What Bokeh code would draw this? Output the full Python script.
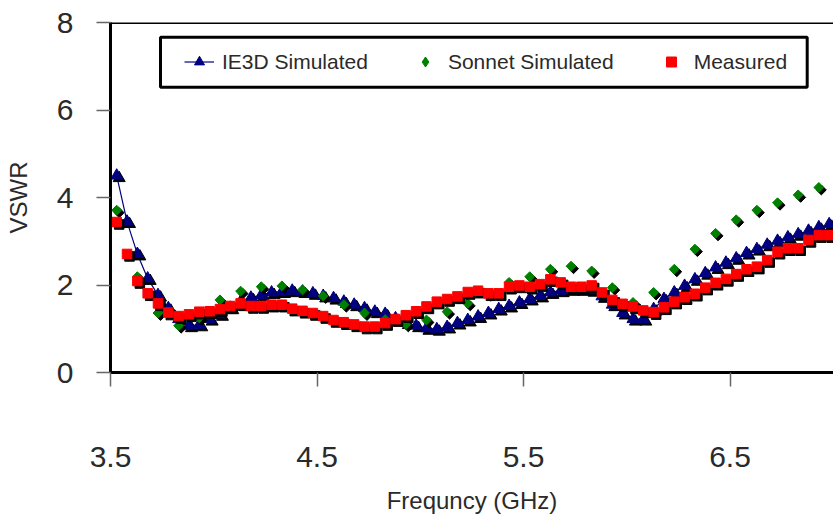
from bokeh.plotting import figure
from bokeh.models import FixedTicker, Legend, LegendItem, Span, BoxAnnotation
from bokeh.embed import file_html
from bokeh.resources import INLINE

# ---------------- data ----------------
freq = [3.53, 3.58, 3.63, 3.68, 3.73, 3.78, 3.83, 3.88, 3.93, 3.98,
        4.03, 4.08, 4.13, 4.18, 4.23, 4.28, 4.33, 4.38, 4.43, 4.48,
        4.53, 4.58, 4.63, 4.68, 4.73, 4.78, 4.83, 4.88, 4.93, 4.98,
        5.03, 5.08, 5.13, 5.18, 5.23, 5.28, 5.33, 5.38, 5.43, 5.48,
        5.53, 5.58, 5.63, 5.68, 5.73, 5.78, 5.83, 5.88, 5.93, 5.98,
        6.03, 6.08, 6.13, 6.18, 6.23, 6.28, 6.33, 6.38, 6.43, 6.48,
        6.53, 6.58, 6.63, 6.68, 6.73, 6.78, 6.83, 6.88, 6.93, 6.98]

ie3d = [4.50, 3.45, 2.71, 2.15, 1.77, 1.47, 1.22, 1.07, 1.09, 1.22,
        1.33, 1.48, 1.62, 1.71, 1.77, 1.83, 1.85, 1.87, 1.85, 1.81,
        1.75, 1.70, 1.62, 1.55, 1.47, 1.39, 1.34, 1.24, 1.14, 1.07,
        1.01, 0.99, 1.04, 1.13, 1.20, 1.28, 1.36, 1.45, 1.52, 1.60,
        1.68, 1.75, 1.83, 1.87, 1.90, 1.90, 1.88, 1.74, 1.55, 1.36,
        1.22, 1.22, 1.45, 1.68, 1.83, 1.98, 2.13, 2.27, 2.40, 2.51,
        2.61, 2.73, 2.82, 2.92, 3.01, 3.09, 3.16, 3.24, 3.32, 3.39]

measured = [3.44, 2.71, 2.09, 1.81, 1.58, 1.37, 1.29, 1.33, 1.39, 1.40,
            1.45, 1.52, 1.58, 1.52, 1.52, 1.55, 1.55, 1.46, 1.41, 1.36,
            1.29, 1.20, 1.15, 1.10, 1.05, 1.05, 1.13, 1.22, 1.31, 1.40,
            1.51, 1.62, 1.68, 1.74, 1.84, 1.87, 1.81, 1.81, 1.96, 1.99,
            1.96, 2.02, 2.13, 2.06, 1.96, 1.96, 1.99, 1.83, 1.66, 1.57,
            1.51, 1.42, 1.38, 1.49, 1.62, 1.72, 1.80, 1.94, 2.05, 2.14,
            2.25, 2.36, 2.42, 2.57, 2.76, 2.84, 2.84, 3.03, 3.14, 3.14]

sonnet_freq = [3.53, 3.63, 3.73, 3.83, 3.93, 4.03, 4.13, 4.23, 4.33, 4.43,
               4.53, 4.63, 4.73, 4.83, 4.93, 5.03, 5.13, 5.23, 5.33, 5.43,
               5.53, 5.63, 5.73, 5.83, 5.93, 6.03, 6.13, 6.23, 6.33, 6.43,
               6.53, 6.63, 6.73, 6.83, 6.93]
sonnet = [3.71, 2.19, 1.36, 1.07, 1.25, 1.66, 1.86, 1.96, 1.98, 1.89,
          1.75, 1.55, 1.36, 1.21, 1.10, 1.20, 1.39, 1.58, 1.80, 2.06,
          2.19, 2.36, 2.43, 2.32, 1.94, 1.60, 1.83, 2.36, 2.82, 3.18,
          3.49, 3.71, 3.88, 4.06, 4.23]

x_ticks = [3.5, 4.5, 5.5, 6.5]
y_ticks = [0, 2, 4, 6, 8]
series_names = ["IE3D Simulated", "Sonnet Simulated", "Measured"]

# ---------------- layout ----------------
FONT = "Liberation Sans"
X0, X1 = 3.5, 7.001
Y0, Y1 = 0, 8
FW, FH = 723, 350

p = figure(frame_width=FW, frame_height=FH,
           x_range=(X0, X1), y_range=(Y0, Y1),
           output_backend="svg", toolbar_location=None,
           min_border_left=110, min_border_right=0,
           min_border_top=22, min_border_bottom=148,
           background_fill_color="white", border_fill_color="white")
p.outline_line_color = None
p.xgrid.visible = False
p.ygrid.visible = False

# shadow offset (about 2.5 px right / down)
sdx = 2.5 * (X1 - X0) / FW
sdy = 2.5 * (Y1 - Y0) / FH

# IE3D
l_ie = p.line(freq, ie3d, line_color="#000080", line_width=1.2)
p.scatter([f + sdx for f in freq], [v - sdy for v in ie3d], marker="triangle",
          size=12, fill_color="black", line_color="black")
s_ie = p.scatter(freq, ie3d, marker="triangle", size=12,
                 fill_color="#000080", line_color="#000080")

# Sonnet (rotated squares)
p.scatter([f + sdx for f in sonnet_freq], [v - sdy for v in sonnet], marker="square",
          angle=0.785398, size=7, fill_color="black", line_color="black")
p.scatter(sonnet_freq, sonnet, marker="square", angle=0.785398, size=7,
          fill_color="#008000", line_color="#008000")
# legend-only glyph for Sonnet (a single NaN point, never drawn in the plot)
s_so = p.scatter(x=[float("nan")], y=[float("nan")], marker="diamond", size=12,
                 fill_color="#008000", line_color="#008000")

# Measured
p.scatter([f + sdx for f in freq], [v - sdy for v in measured], marker="square",
          size=9.5, fill_color="black", line_color="black")
s_me = p.scatter(freq, measured, marker="square", size=9.5,
                 fill_color="#ff0000", line_color="#ff0000")

# top border
p.add_layout(Span(location=Y1, dimension="width", line_color="black", line_width=3))

# axes
for ax in (p.xaxis[0], p.yaxis[0]):
    ax.axis_line_color = "black"
    ax.axis_line_width = 3
    ax.major_tick_line_color = "#666666"
    ax.major_tick_line_width = 1.5
    ax.major_tick_out = 14
    ax.major_tick_in = 0
    ax.minor_tick_line_color = None
    ax.major_label_text_font = FONT
    ax.major_label_text_font_size = "30px"
    ax.major_label_text_color = "#2a2a2a"
    ax.axis_label_text_font = FONT
    ax.axis_label_text_font_size = "24px"
    ax.axis_label_text_font_style = "normal"
    ax.axis_label_text_color = "#2a2a2a"

p.xaxis.ticker = FixedTicker(ticks=x_ticks)
p.yaxis.ticker = FixedTicker(ticks=y_ticks)
p.xaxis.major_label_standoff = 60
p.yaxis.major_label_standoff = 23
p.xaxis.axis_label = "Frequncy (GHz)"
p.yaxis.axis_label = "VSWR"
p.xaxis.axis_label_standoff = 17
p.yaxis.axis_label_standoff = 22

# legend box
box = BoxAnnotation(left=50, right=696.7, bottom=285.2, top=335.2,
                    left_units="screen", right_units="screen",
                    bottom_units="screen", top_units="screen",
                    fill_color="white", fill_alpha=1.0,
                    line_color="black", line_width=3, line_alpha=1.0)
p.add_layout(box)

legend = Legend(items=[LegendItem(label=series_names[0], renderers=[l_ie, s_ie]),
                       LegendItem(label=series_names[1], renderers=[s_so]),
                       LegendItem(label=series_names[2], renderers=[s_me])],
                orientation="horizontal", location=(74, 298),
                padding=0, spacing=42, glyph_width=30, glyph_height=25,
                label_standoff=8, label_text_font=FONT,
                label_text_font_size="21px", label_text_color="#2a2a2a",
                border_line_alpha=0, background_fill_alpha=0)
p.add_layout(legend)

open("out.html", "w").write(file_html(p, INLINE))
